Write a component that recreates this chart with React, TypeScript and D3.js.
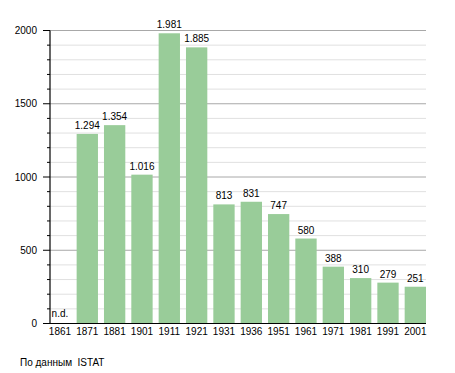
import React from "react";
import * as d3 from "d3";

const years = ["1861","1871","1881","1901","1911","1921","1931","1936","1951","1961","1971","1981","1991","2001"];
const population: (number | null)[] = [null,1294,1354,1016,1981,1885,813,831,747,580,388,310,279,251];
const majorTicks = [0, 500, 1000, 1500, 2000];
const minorTicks = d3.range(0, 2001, 100);
const sourceText = "По данным\u00a0\u00a0ISTAT";
const missingLabel = "n.d.";

const W = 455, H = 373;
const FONT = "'Liberation Sans', Arial, sans-serif";

function fmt(v: number) {
  const s = String(v);
  return s.length > 3 ? s.slice(0, s.length - 3) + "." + s.slice(-3) : s;
}

export default function App() {
  const x = d3.scaleBand<string>().domain(years).range([46.3, 429]).paddingInner(0.22).paddingOuter(0.11);
  const y = d3.scaleLinear().domain([0, 2000]).range([323.5, 30.5]);
  const left = 50, right = 426;
  return (
    <svg width={W} height={H} style={{ position: "absolute", left: 0, top: 0, background: "#fff" }} fontFamily={FONT}>
      {minorTicks.filter(t => t % 500 !== 0).map(t => (
        <line key={"g" + t} x1={left} x2={right} y1={y(t)} y2={y(t)} stroke="#e0e0e0" strokeWidth={1} />
      ))}
      {majorTicks.filter(t => t > 0).map(t => (
        <line key={"G" + t} x1={left} x2={right} y1={y(t)} y2={y(t)} stroke="#a8a8a8" strokeWidth={1} />
      ))}
      {years.map((yr, i) => {
        const v = population[i];
        const bx = x(yr)!;
        const bw = x.bandwidth();
        if (v == null) {
          return (
            <text key={yr} x={bx + bw / 2} y={317} fontSize={10} textAnchor="middle" fill="#000">{missingLabel}</text>
          );
        }
        return (
          <g key={yr}>
            <rect x={bx} y={y(v)} width={bw} height={y(0) - y(v)} fill="#99cc99" />
            <text x={bx + bw / 2} y={y(v) - 5} fontSize={10} textAnchor="middle" fill="#000">{fmt(v)}</text>
          </g>
        );
      })}
      {minorTicks.map(t => (
        <line key={"t" + t} x1={t % 500 === 0 ? 43 : 47} x2={left} y1={y(t)} y2={y(t)} stroke="#000" strokeWidth={1} />
      ))}
      <line x1={left} x2={left} y1={y(2000)} y2={y(0)} stroke="#000" strokeWidth={1.2} />
      <line x1={left} x2={right} y1={y(0)} y2={y(0)} stroke="#000" strokeWidth={1.2} />
      {majorTicks.map(t => (
        <text key={"l" + t} x={37} y={y(t)} dy="0.35em" fontSize={10} textAnchor="end" fill="#000">{t}</text>
      ))}
      {years.map(yr => (
        <text key={"x" + yr} x={x(yr)! + x.bandwidth() / 2} y={335} fontSize={10} textAnchor="middle" fill="#000">{yr}</text>
      ))}
      <text x={20} y={366} fontSize={10} fill="#000">{sourceText}</text>
    </svg>
  );
}
